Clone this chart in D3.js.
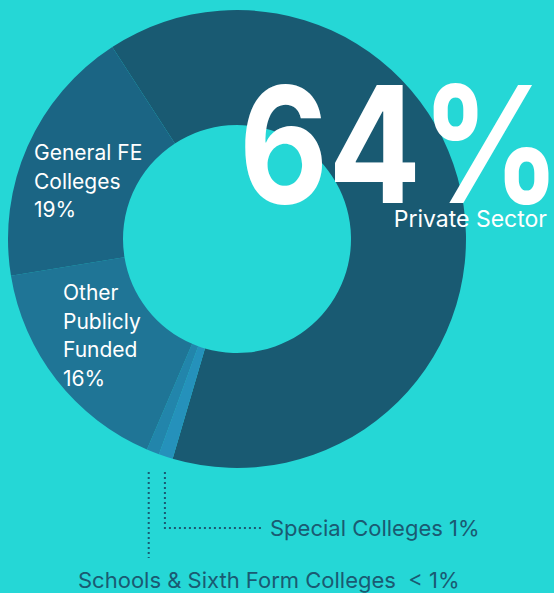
<!DOCTYPE html>
<html>
<head>
<meta charset="utf-8">
<script src="https://cdn.jsdelivr.net/npm/d3@7"></script>
<style>
  html, body { margin: 0; padding: 0; background: #25d7d6; }
  svg { display: block; font-family: Inter, 'Noto Sans', sans-serif; }
</style>
</head>
<body>
<svg id="chart" width="554" height="593"></svg>
<script>
// shares in %, clockwise from the top-left edge of the private sector slice
let sectors = ['Private Sector', 'Special Colleges', 'Schools & Sixth Form Colleges', 'Other Publicly Funded', 'General FE Colleges']
let shares = [63.7, 1.0, 0.9, 16.0, 18.4]
let shareLabels = ['64%', '1%', '< 1%', '16%', '19%']
let colors = ['#195a72', '#2591bb', '#2285ab', '#1f7596', '#1b6584']

let width = 554, height = 593
let cx = 237, cy = 239
let outerR = 229, innerR = 114
let svg = d3.select('#chart')

let pie = d3.pie()
  .sort(null)
  .startAngle(-33 * Math.PI / 180)
  .endAngle((360 - 33) * Math.PI / 180)
  .value(d => d)
let arc = d3.arc().innerRadius(innerR).outerRadius(outerR)
let arcs = pie(shares)

let g = svg.append('g').attr('transform', 'translate(' + cx + ',' + cy + ')')
g.selectAll('path')
  .data(arcs)
  .enter().append('path')
  .attr('d', arc)
  .attr('fill', (d, i) => colors[i])

// big headline number, squeezed a little like the original lettering
svg.append('text')
  .attr('x', 239).attr('y', 203)
  .attr('fill', '#fff')
  .attr('textLength', 322)
  .attr('lengthAdjust', 'spacingAndGlyphs')
  .style('font-size', '162px')
  .style('font-weight', 700)
  .text(shareLabels[0])
svg.append('text')
  .attr('x', 547).attr('y', 227)
  .attr('text-anchor', 'end')
  .attr('fill', '#fff')
  .style('font-size', '23px')
  .text(sectors[0])

// labels inside the ring
function block(x, y, lines) {
  let t = svg.append('text').attr('x', x).attr('y', y).attr('fill', '#fff').style('font-size', '21px')
  lines.forEach((l, i) => t.append('tspan').attr('x', x).attr('dy', i ? 28.6 : 0).text(l))
}
block(34, 160, ['General FE', 'Colleges', shareLabels[4]])
block(63, 300, ['Other', 'Publicly', 'Funded', shareLabels[3]])

// leader lines for the two thin slices
let dark = '#1a5a72'
let edge = a => [Math.sin(a) * (outerR + 6), -Math.cos(a) * (outerR + 6)]
let mid = d => (d.startAngle + d.endAngle) / 2
let pSpecial = edge(mid(arcs[1]))
let pSchools = edge(mid(arcs[2]))

let leaders = svg.append('g')
  .attr('fill', 'none')
  .attr('stroke', dark)
  .attr('stroke-width', 2)
  .attr('stroke-dasharray', '2,3')
leaders.append('path')
  .attr('d', d3.line()([[cx + pSpecial[0] + 1, 472], [cx + pSpecial[0] + 1, 528], [263, 528]]))
leaders.append('path')
  .attr('d', d3.line()([[cx + pSchools[0] - 2, 472], [cx + pSchools[0] - 2, 558]]))

svg.append('text')
  .attr('x', 270).attr('y', 536)
  .attr('fill', dark)
  .style('font-size', '22px')
  .text(sectors[1] + ' ' + shareLabels[1])
svg.append('text')
  .attr('x', 78).attr('y', 588)
  .attr('fill', dark)
  .style('font-size', '22px')
  .style('white-space', 'pre')
  .text(sectors[2] + '  ' + shareLabels[2])
</script>
</body>
</html>
